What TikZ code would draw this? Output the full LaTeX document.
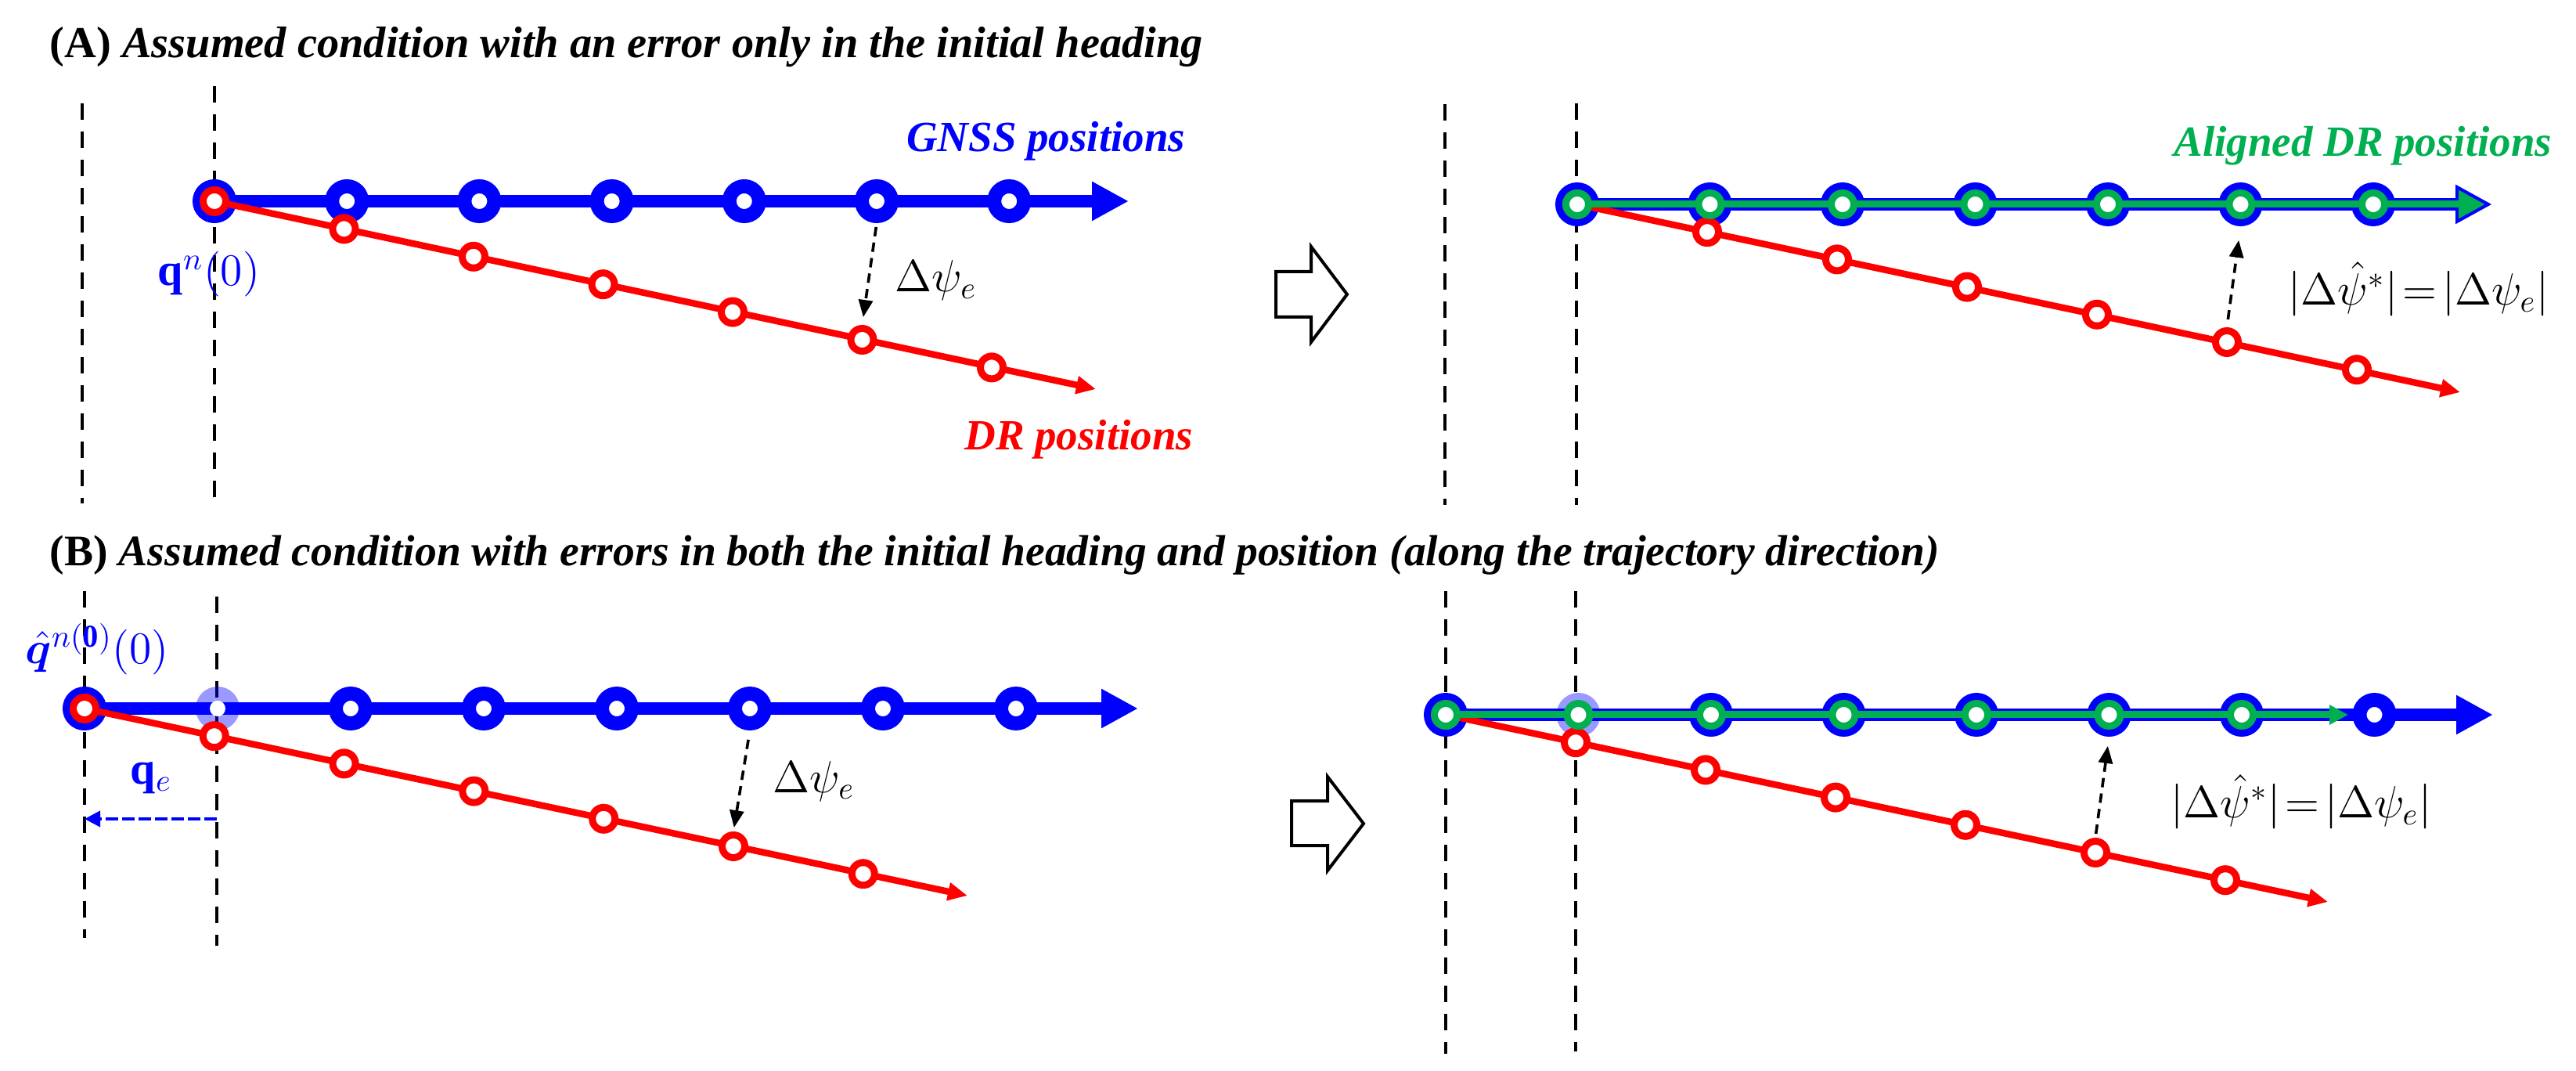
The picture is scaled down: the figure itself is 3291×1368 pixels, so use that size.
\documentclass[tikz,border=0pt]{standalone}
\usepackage{amsmath}
\usepackage{bm}
\usepackage{fontspec}
\setmainfont{Liberation Serif}
\usetikzlibrary{arrows.meta}
\definecolor{dgreen}{RGB}{0,176,80}
\begin{document}
\begin{tikzpicture}[x=0.25pt,y=-0.25pt,
  vdash/.style={line width=1.1pt, dash pattern=on 5.25pt off 3.75pt},
  bline/.style={blue, line width=4pt, -{Triangle[length=11.75pt,width=11.75pt]}},
  rline/.style={red, line width=2.1pt, -{Triangle[length=6.25pt,width=5.5pt]}},
  gline/.style={dgreen, line width=2.25pt},
  bring/.style={circle, draw=blue, line width=4.5pt, fill=white, minimum size=9.5pt, inner sep=0pt},
  fring/.style={circle, draw=blue, draw opacity=0.4, line width=4.5pt, minimum size=9.5pt, inner sep=0pt},
  rring/.style={circle, draw=red, line width=2.25pt, fill=white, minimum size=7.25pt, inner sep=0pt},
  gring/.style={circle, draw=dgreen, line width=2.25pt, fill=white, minimum size=7.25pt, inner sep=0pt},
  darrow/.style={black, line width=0.9pt, dash pattern=on 3pt off 2pt, -{Triangle[length=5.5pt,width=4.5pt]}},
  qarrow/.style={blue, line width=1pt, dash pattern=on 4pt off 1.25pt, -{Triangle[length=5pt,width=5pt]}},
  blockarrow/.style={black, line width=1pt, line join=miter, fill=white},
  lbl/.style={font=\fontsize{13.75}{16}\selectfont\bfseries\itshape, inner sep=0pt},
  ttl/.style={inner sep=0pt, anchor=base west},
  mlbl/.style={font=\fontsize{14.5}{17}\selectfont, inner sep=0pt}
]
\useasboundingbox (0,0) rectangle (3291,1368);

% ---------------- titles ----------------
\node[ttl, font=\fontsize{14.1}{16}\selectfont\bfseries] (titleA) at (63,74) {(A) \textit{Assumed condition with an error only in the initial heading}};
\node[ttl, font=\fontsize{13.9}{16}\selectfont\bfseries] (titleB) at (63,723) {(B) \textit{Assumed condition with errors in both the initial heading and position (along the trajectory direction)}};

% ---------------- vertical dashed lines ----------------
\draw[vdash] (105,132) -- (105,643);
\draw[vdash] (274,110) -- (274,640);
\draw[vdash] (1846,133) -- (1846,645);
\draw[vdash] (2014,132) -- (2014,645);
\draw[vdash] (108,755) -- (108,1198);
\draw[vdash] (277,762) -- (277,1208);
\draw[vdash] (1847,755) -- (1847,1346);
\draw[vdash] (2013,755) -- (2013,1343);

% ---------------- block arrows ----------------
\draw[blockarrow] (1630,347) -- (1675,347) -- (1675,315) -- (1721,376) -- (1675,437) -- (1675,405) -- (1630,405) -- cycle;
\draw[blockarrow] (1650,1023) -- (1696,1023) -- (1696,992) -- (1742,1052) -- (1696,1112) -- (1696,1080) -- (1650,1080) -- cycle;

% ================= Panel A, left =================
\coordinate (La) at (274,257);
\coordinate (LaBt) at (1442,257);
\coordinate (LaRt) at (1400,497);
\draw[bline] (La) -- (LaBt);
\foreach \k in {0,...,6} \node[bring] (LaB\k) at ({274+\k*169.2},257) {};
\draw[rline] (La) -- (LaRt);
\node[rring] (LaR0) at (La) {};
\foreach \k in {1,...,6} \node[rring] (LaR\k) at ({274+\k*165.5},{257+\k*35.4}) {};
\draw[darrow, shorten <=1.25pt, shorten >=2.5pt] (LaB5.south) -- (LaR5.north);
\node[mlbl, anchor=base west] (dpsiA) at (1143,373) {$\Delta\psi_e$};
\node[lbl, text=blue, anchor=base east] (gnssA) at (1515,194) {GNSS positions};
\node[lbl, text=red, anchor=base east] (drA) at (1525,575) {DR positions};
\node[mlbl, text=blue, anchor=base west] (qA) at (201,365) {$\mathbf{q}^{n}(0)$};

% ================= Panel A, right =================
\coordinate (Ra) at (2015,261);
\coordinate (RaBt) at (3184,261);
\coordinate (RaGt) at (3175,261);
\coordinate (RaRt) at (3143,501);
\draw[bline] (Ra) -- (RaBt);
\foreach \k in {0,...,6} \node[bring] (RaB\k) at ({2015+\k*169.5},261) {};
\draw[rline] (Ra) -- (RaRt);
\node[rring] (RaR0) at (Ra) {};
\foreach \k in {1,...,6} \node[rring] (RaR\k) at ({2015+\k*166},{261+\k*35.2}) {};
\draw[gline, -{Triangle[length=8.5pt,width=8.5pt]}] (Ra) -- (RaGt);
\foreach \k in {0,...,6} \node[gring] (RaG\k) at ({2015+\k*169.5},261) {};
\draw[darrow, shorten <=2.5pt, shorten >=4.5pt] (RaR5.north) -- (RaB5.south);
\node[mlbl, anchor=center] (dpsiRA) at (3090,369) {$|\Delta\hat{\psi}^{*}|\! =\! |\Delta\psi_e|$};
\node[lbl, text=dgreen, anchor=base east] (alA) at (3261,200) {Aligned DR positions};

% ================= Panel B, left =================
\coordinate (Lb) at (108,905);
\coordinate (LbBt) at (1454,905);
\coordinate (LbRt) at (1236,1144);
\draw[bline] (Lb) -- (LbBt);
\foreach \k in {0,2,3,4,5,6,7} \node[bring] (LbB\k) at ({108+\k*170},905) {};
\node[fring] (LbB1) at (278,905) {};
\fill[white] (LbB1.center) circle[radius=2.5pt];
\draw[rline] (Lb) -- (LbRt);
\node[rring] (LbR0) at (Lb) {};
\foreach \k in {1,...,6} \node[rring] (LbR\k) at ({108+\k*165.8},{905+\k*35.2}) {};
\draw[darrow, shorten <=3pt, shorten >=1.25pt] (LbB5.south) -- (LbR5.north);
\node[mlbl, anchor=base west] (dpsiB) at (987,1012) {$\Delta\psi_e$};
\node[mlbl, text=blue, anchor=base west] (qhB) at (32,847) {$\hat{\bm{q}}^{n(\mathbf{0})}(0)$};
\coordinate (qeS) at (277,1046);
\coordinate (qeE) at (108,1046);
\draw[qarrow] (qeS) -- (qeE);
\node[mlbl, text=blue, anchor=base west] (qeB) at (166,1002) {$\mathbf{q}_e$};

% ================= Panel B, right =================
\coordinate (Rb) at (1847,913);
\coordinate (RbBt) at (3185,913);
\coordinate (RbGt) at (3000,913);
\coordinate (RbRt) at (2974,1152);
\draw[bline] (Rb) -- (RbBt);
\foreach \k in {0,2,3,4,5,6,7} \node[bring] (RbB\k) at ({1847+\k*169.5},913) {};
\node[fring] (RbB1) at (2016.5,913) {};
\fill[white] (RbB1.center) circle[radius=2.5pt];
\draw[rline] (Rb) -- (RbRt);
\node[rring] (RbR0) at (Rb) {};
\foreach \k in {1,...,6} \node[rring] (RbR\k) at ({1847+\k*166},{913+\k*35.2}) {};
\draw[gline, -{Triangle[length=6pt,width=6pt]}] (Rb) -- (RbGt);
\foreach \k in {0,...,6} \node[gring] (RbG\k) at ({1847+\k*169.5},913) {};
\draw[darrow, shorten <=1.25pt, shorten >=3pt] (RbR5.north) -- (RbB5.south);
\node[mlbl, anchor=center] (dpsiRB) at (2940,1024) {$|\Delta\hat{\psi}^{*}|\! =\! |\Delta\psi_e|$};

\end{tikzpicture}
\end{document}
